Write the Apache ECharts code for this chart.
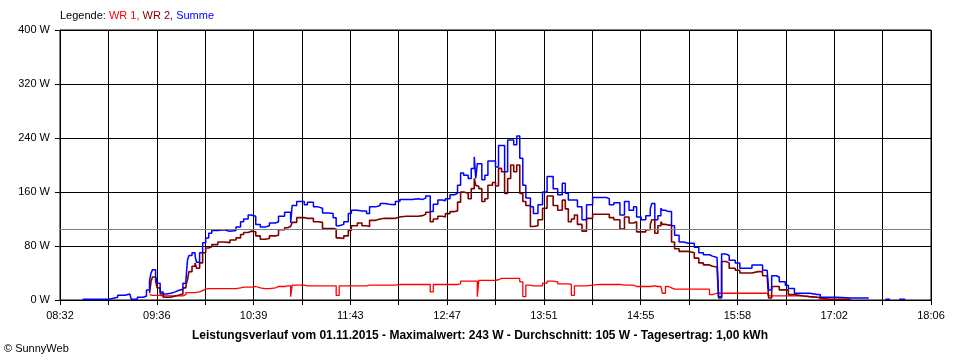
<!DOCTYPE html>
<html><head><meta charset="utf-8">
<script src="https://cdn.jsdelivr.net/npm/echarts/dist/echarts.min.js"></script>
<style>html,body{margin:0;padding:0;background:#fff}#c{width:960px;height:360px}</style>
</head><body><div id="c"></div>
<script>
const tickLabels = ['08:32','09:36','10:39','11:43','12:47','13:51','14:55','15:58','17:02','18:06'];
const average = 105;
const times = [
'08:47','08:58','09:04','09:06','09:10','09:15','09:18','09:19','09:23','09:27',
'09:29','09:31','09:32','09:33','09:35','09:36','09:38','09:40','09:42','09:45',
'09:48','09:50','09:53','09:55','09:56','09:57','09:59','10:01','10:02','10:04',
'10:06','10:08','10:10','10:12','10:16','10:20','10:24','10:28','10:31','10:33',
'10:36','10:38','10:41','10:44','10:47','10:50','10:54','10:56','11:00','11:02',
'11:04','11:05','11:08','11:11','11:13','11:15','11:19','11:22','11:25','11:29',
'11:32','11:34','11:36','11:39','11:42','11:44','11:48','11:51','11:54','11:56',
'12:00','12:03','12:06','12:09','12:13','12:16','12:20','12:24','12:28','12:31',
'12:33','12:36','12:38','12:41','12:44','12:46','12:49','12:52','12:54','12:56',
'12:58','13:01','13:03','13:05','13:06','13:07','13:08','13:10','13:12','13:14',
'13:17','13:19','13:21','13:23','13:25','13:27','13:29','13:31','13:33','13:35',
'13:37','13:39','13:42','13:44','13:47','13:50','13:53','13:55','13:57','14:00',
'14:03','14:05','14:07','14:09','14:11','14:13','14:16','14:19','14:23','14:28',
'14:32','14:34','14:37','14:41','14:44','14:47','14:50','14:52','14:55','14:58',
'15:01','15:02','15:04','15:06','15:08','15:09','15:11','15:13','15:15','15:17',
'15:20','15:23','15:26','15:30','15:33','15:36','15:40','15:42','15:45','15:46',
'15:48','15:51','15:53','15:57','16:00','16:04','16:08','16:12','16:15','16:18',
'16:19','16:21','16:24','16:26','16:30','16:32','16:36','16:42','16:46','16:51',
'16:53','16:59','17:04','17:13','17:24','17:25','17:36','17:38','17:39','17:45',
'17:49'];
const summe = [
1,1,2,4,7,9,9,1,4,6,
15,28,40,45,35,25,12,9,10,12,
14,16,25,30,59,66,70,65,56,70,
85,92,99,103,104,102,103,108,116,120,
126,124,112,108,110,114,116,124,130,130,
114,140,146,146,141,145,138,136,129,128,
122,110,112,116,128,133,132,132,128,138,
140,143,142,141,146,149,149,150,149,151,
154,131,142,148,147,150,156,158,170,188,
185,180,195,212,180,202,202,178,185,206,
206,197,229,229,190,237,237,230,243,210,
170,151,138,128,141,160,183,183,165,156,
173,158,148,148,148,138,119,141,152,152,
150,141,144,126,146,133,138,123,119,125,
135,143,119,125,136,133,131,131,110,96,
86,84,84,78,70,67,65,63,62,5,
68,66,59,55,47,47,52,52,44,44,
15,36,34,27,22,17,10,10,8,8,
4,4,3,3,3,null,1,1,null,1,
1];
const wr2 = [
null,null,null,null,null,null,null,null,null,null,
null,10,28,34,28,18,9,4,4,6,
7,9,18,22,30,42,50,55,47,55,
70,77,79,82,86,85,89,92,97,100,
102,101,95,90,91,95,96,104,107,109,
109,115,122,122,121,121,116,115,106,106,
105,92,91,95,103,110,114,110,109,118,
120,121,121,121,123,124,124,124,125,127,
130,116,120,124,123,128,131,132,145,160,
158,150,165,180,170,168,165,146,150,170,
174,169,195,190,158,180,200,190,200,158,
146,140,109,110,119,136,154,154,140,133,
148,135,116,120,126,112,102,121,127,127,
127,122,119,105,123,114,116,101,101,104,
112,119,99,110,116,112,111,111,86,76,
72,72,70,62,55,52,50,49,48,3,
57,55,47,44,40,40,42,42,36,36,
3,20,20,15,15,8,6,5,4,3,
1,1,1,null,null,null,null,null,null,null,
null];
const wr1 = [
null,null,null,null,null,null,null,null,null,null,
null,8,7,7,7,7,6,6,6,6,
6,6,8,11,11,11,11,12,12,14,
16,17,17,17,17,17,17,18,19,19,
19,20,18,17,17,18,20,20,21,21,
5,22,22,22,21,21,21,21,21,21,
21,7,21,21,21,21,21,21,22,22,
22,22,22,22,23,23,23,23,23,23,
23,12,23,23,23,23,23,23,24,28,
28,28,28,28,28,5,29,29,29,29,
29,30,32,32,32,32,32,32,32,27,
5,22,21,21,21,25,28,28,27,24,
24,24,23,7,21,21,21,22,23,23,
23,23,23,22,22,22,20,20,20,20,
21,21,20,20,20,10,20,18,16,16,
16,16,16,16,16,16,8,10,10,10,
10,10,10,10,10,10,10,10,10,10,
6,6,6,6,6,6,6,5,4,4,
1,1,1,null,null,null,null,null,null,null,
null];

function toMin(s){const p=s.split(':');return +p[0]*60 + +p[1];}
const t0 = toMin(tickLabels[0]);
const span = toMin(tickLabels[tickLabels.length-1]) - t0;
const step = span / 18;
function pts(arr){return times.map((t,i)=>[toMin(t)-t0, arr[i]]);}

const FONT = 'Liberation Sans';
const chart = echarts.init(document.getElementById('c'), null, {renderer:'canvas'});
function lineSeries(name, arr, color, width, extra){
  return Object.assign({name, type:'line', data:pts(arr), step:'end', showSymbol:false, symbol:'none',
    connectNulls:false, lineStyle:{color, width}, itemStyle:{color}, animation:false}, extra||{});
}
const rs = c => ({color:c, fontSize:11, fontWeight:'normal', fontFamily:FONT});
chart.setOption({
  animation:false,
  backgroundColor:'#fff',
  textStyle:{fontFamily:FONT},
  title:[
    {text:'{k|Legende: }{a|WR 1, }{b|WR 2, }{c|Summe}', left:60, top:10, padding:0,
     textStyle:{fontWeight:'normal', fontSize:11, rich:{k:rs('#000'),a:rs('#ff0000'),b:rs('#800000'),c:rs('#0000ff')}}},
    {text:'Leistungsverlauf vom 01.11.2015 - Maximalwert: 243 W - Durchschnitt: 105 W - Tagesertrag: 1,00 kWh',
     left:'center', top:330, padding:0, textStyle:{color:'#000',fontSize:12,fontWeight:'bold',fontFamily:FONT}},
    {text:'© SunnyWeb', left:4, top:343, padding:0, textStyle:{color:'#000',fontSize:11,fontWeight:'normal',fontFamily:FONT}}
  ],
  grid:{left:60, right:29, top:30, bottom:60, show:true, borderColor:'#000', borderWidth:1, backgroundColor:'#fff'},
  xAxis:{type:'value', min:0, max:span, interval:step,
    axisLine:{show:true, lineStyle:{color:'#000', width:1}},
    axisTick:{show:true, length:5, lineStyle:{color:'#000'}},
    splitLine:{show:true, lineStyle:{color:'#000', width:1}},
    axisLabel:{color:'#000', fontSize:11, margin:10, fontFamily:FONT, showMaxLabel:true, showMinLabel:true,
      formatter:function(v){const i=Math.round(v/step); return i%2===0 ? (tickLabels[i/2]||'') : '';}}},
  yAxis:{type:'value', min:0, max:400, interval:80,
    axisLine:{show:true, lineStyle:{color:'#000', width:1}},
    axisTick:{show:true, length:5, lineStyle:{color:'#000'}},
    splitLine:{show:true, lineStyle:{color:'#000', width:1}},
    axisLabel:{color:'#000', fontSize:11, margin:10, fontFamily:FONT, formatter:'{value} W'}},
  series:[
    lineSeries('WR 1', wr1, '#ff0000', 1.3, {markLine:{silent:true, symbol:'none', label:{show:false},
      lineStyle:{color:'#808080', type:'solid', width:1}, data:[{yAxis:average}]}}),
    lineSeries('WR 2', wr2, '#800000', 1.6),
    lineSeries('Summe', summe, '#0000ff', 1.5)
  ]
});
</script></body></html>
